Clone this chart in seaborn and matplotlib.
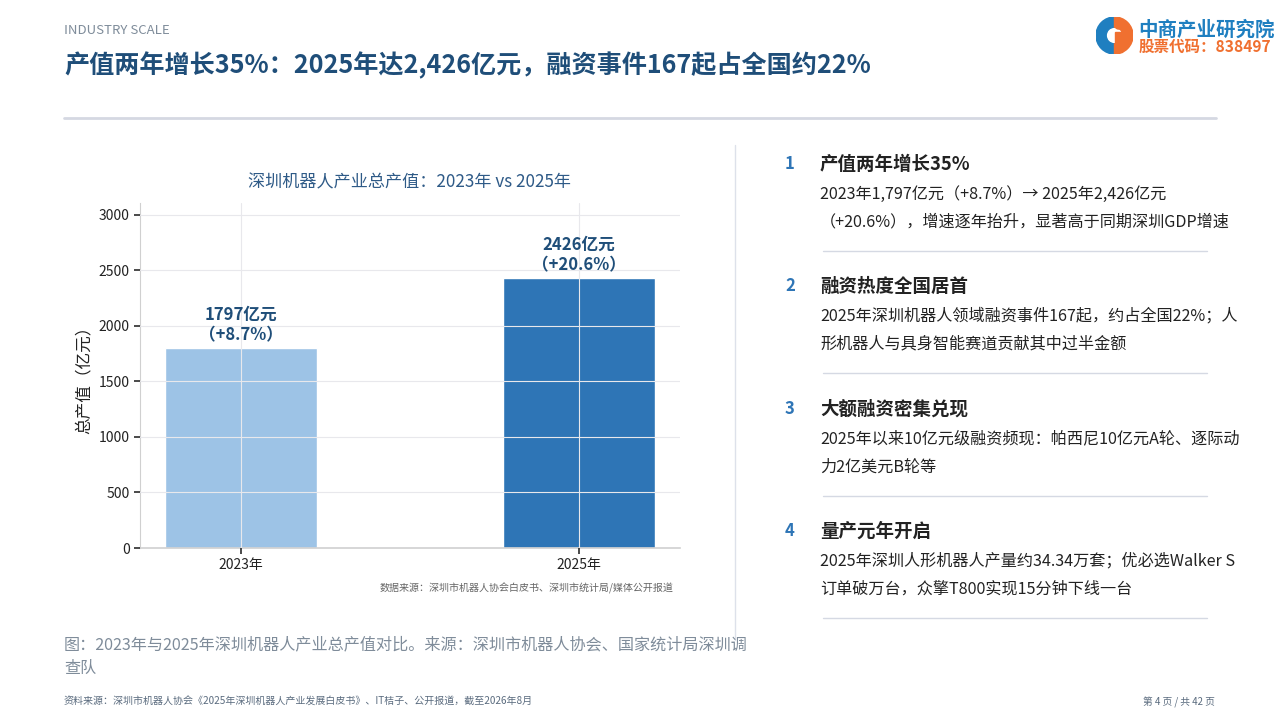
# import libraries
import matplotlib
matplotlib.use("Agg")
import matplotlib.pyplot as plt
import seaborn as sns
import pandas as pd
from matplotlib.patches import Wedge, Circle, Rectangle

# chart data
years = ["2023年", "2025年"]
values = [1797, 2426]
growth = ["+8.7%", "+20.6%"]
bar_colors = ["#9DC3E6", "#2E75B6"]

# right-hand key points
point_titles = ["产值两年增长35%", "融资热度全国居首", "大额融资密集兑现", "量产元年开启"]
point_lines = [
    ["2023年1,797亿元（+8.7%）→ 2025年2,426亿元", "（+20.6%），增速逐年抬升，显著高于同期深圳GDP增速"],
    ["2025年深圳机器人领域融资事件167起，约占全国22%；人", "形机器人与具身智能赛道贡献其中过半金额"],
    ["2025年以来10亿元级融资频现：帕西尼10亿元A轮、逐际动", "力2亿美元B轮等"],
    ["2025年深圳人形机器人产量约34.34万套；优必选Walker S", "订单破万台，众擎T800实现15分钟下线一台"],
]

sns.set_theme(style="white")
plt.rcParams["font.family"] = ["Noto Sans CJK SC", "DejaVu Sans"]
plt.rcParams["axes.unicode_minus"] = False

df = pd.DataFrame({"year": years, "value": values})

fig = plt.figure(figsize=(12.8, 7.2), dpi=100)
W, H = 1280, 720


def fx(px):
    return px / W


def fy(py):
    return 1 - py / H


# header
fig.text(fx(64), fy(30), "INDUSTRY SCALE", fontsize=9.5, color="#7F8C9A", va="center")
fig.text(fx(64), fy(66), "产值两年增长35%：2025年达2,426亿元，融资事件167起占全国约22%",
         fontsize=18.1, fontweight="bold", color="#1F4E79", va="center")
fig.add_artist(plt.Line2D([fx(64), fx(1216)], [fy(118), fy(118)], color="#D5D8E2", linewidth=2))

# logo
logo = fig.add_axes([fx(1096), fy(54), fx(37), 37 / H])
logo.set_xlim(-1, 1)
logo.set_ylim(-1, 1)
logo.set_aspect("equal")
logo.axis("off")
logo.add_patch(Wedge((0, 0), 1, 90, 270, width=0.55, color="#1F7FC0"))
logo.add_patch(Wedge((0, 0), 1, -90, 90, width=0.55, color="#F07030"))
logo.add_patch(Rectangle((0.05, -0.9), 0.35, 1.1, color="#F07030"))
logo.add_patch(Circle((0.22, 0.55), 0.2, color="#F07030"))
fig.text(fx(1138), fy(30), "中商产业研究院", fontsize=14, fontweight="bold", color="#1F7FC0", va="center")
fig.text(fx(1139), fy(47), "股票代码：838497", fontsize=11.2, fontweight="bold", color="#F07030", va="center")

# bar chart
ax = fig.add_axes([fx(140), fy(548), fx(540), (548 - 203) / H])
sns.barplot(data=df, x="year", y="value", hue="year", palette=bar_colors,
            width=0.45, dodge=False, legend=False, ax=ax, saturation=1)
ax.set_xlim(-0.3, 1.3)
ax.set_ylim(0, max(values) * 1.28)
ax.set_yticks([0, 500, 1000, 1500, 2000, 2500, 3000])
ax.grid(True, color="#E8E8EC", linewidth=0.8)
ax.set_axisbelow(False)
for s in ["top", "right"]:
    ax.spines[s].set_visible(False)
for s in ["left", "bottom"]:
    ax.spines[s].set_color("#D0D0D0")
    ax.spines[s].set_linewidth(1.2)
ax.spines["left"].set_linewidth(0.8)
ax.tick_params(axis="both", which="both", left=True, bottom=True, length=4,
               color="#333333", labelsize=10, labelcolor="#222222")
ax.set_xlabel("")
ax.set_ylabel("总产值（亿元）", fontsize=12, color="#222222")
ax.set_title("深圳机器人产业总产值：2023年 vs 2025年", fontsize=12.3, color="#2E5A87", pad=11)

for i, (v, g) in enumerate(zip(values, growth)):
    ax.annotate(f"{v}亿元\n（{g}）", xy=(i, v), xytext=(0, 3), textcoords="offset points",
                ha="center", va="bottom", fontsize=12, fontweight="bold",
                color="#1F4E79", linespacing=1.15)

fig.text(fx(673), fy(588), "数据来源：深圳市机器人协会白皮书、深圳市统计局/媒体公开报道",
         fontsize=7.2, color="#666666", ha="right", va="center")

# caption
fig.text(fx(64), fy(645), "图：2023年与2025年深圳机器人产业总产值对比。来源：深圳市机器人协会、国家统计局深圳调",
         fontsize=11.6, color="#7F8C9A", va="center")
fig.text(fx(64), fy(668), "查队", fontsize=11.6, color="#7F8C9A", va="center")

# divider
fig.add_artist(plt.Line2D([fx(735), fx(735)], [fy(145), fy(640)], color="#DDE1EA", linewidth=1))

# key points
head_y = [164, 286, 409, 531]
for k, (t, lines, hy) in enumerate(zip(point_titles, point_lines, head_y)):
    fig.text(fx(785), fy(hy), str(k + 1), fontsize=12, fontweight="bold", color="#2E75B6", va="center")
    fig.text(fx(820), fy(hy), t, fontsize=13.3, fontweight="bold", color="#222222", va="center")
    for j, ln in enumerate(lines):
        fig.text(fx(820), fy(hy + 30 + 28 * j), ln, fontsize=11.6, color="#222222", va="center")
    fig.add_artist(plt.Line2D([fx(823), fx(1207)], [fy(hy + 87), fy(hy + 87)],
                              color="#D5D9E3", linewidth=1))

# footer
fig.text(fx(64), fy(702), "资料来源：深圳市机器人协会《2025年深圳机器人产业发展白皮书》、IT桔子、公开报道，截至2026年8月",
         fontsize=7.2, color="#5A6B7E", va="center")
fig.text(fx(1215), fy(702), "第 4 页 / 共 42 页", fontsize=7, color="#5A6B7E", va="center", ha="right")

fig.savefig("out.png", dpi=100)
